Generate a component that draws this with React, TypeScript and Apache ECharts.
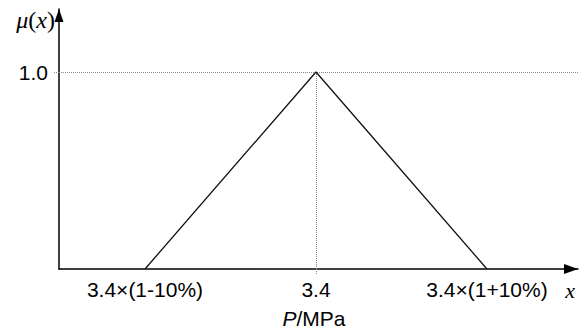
import React, { useEffect, useRef } from "react";
import * as echarts from "echarts";

// Triangular membership function of the pressure P
const pressure = [3.06, 3.4, 3.74];
const membership = [0, 1.0, 0];

const xTickValues = [3.06, 3.4, 3.74];
const xTickLabels = ["3.4×(1-10%)", "3.4", "3.4×(1+10%)"];
const yTickValues = [1.0];
const yTickLabels = ["1.0"];

const peakP = 3.4;
const peakMu = 1.0;

const SANS = "'Liberation Sans', Arial, sans-serif";
const SERIF = "'Liberation Serif', 'Times New Roman', serif";

export default function App() {
  const ref = useRef<HTMLDivElement>(null);

  useEffect(() => {
    if (!ref.current) return;
    const chart = echarts.init(ref.current, undefined, { renderer: "svg" });

    const dotted = { color: "#8a8a8a", width: 1, type: [1, 1] as number[] };

    chart.setOption({
      animation: false,
      backgroundColor: "#ffffff",
      grid: { left: 59, right: 1, top: 9, bottom: 65, containLabel: false },
      xAxis: {
        type: "value",
        min: 2.889,
        max: 3.921,
        splitLine: { show: false },
        axisLine: {
          show: true,
          onZero: false,
          lineStyle: { color: "#000", width: 1.5 },
          symbol: ["none", "triangle"],
          symbolSize: [10, 14],
          symbolOffset: [0, -7],
        },
        axisTick: {
          show: true,
          customValues: [peakP],
          length: 6,
          lineStyle: dotted,
        },
        axisLabel: {
          customValues: xTickValues,
          formatter: (v: number) => {
            const i = xTickValues.findIndex((t) => Math.abs(t - v) < 1e-6);
            return i >= 0 ? xTickLabels[i] : "";
          },
          margin: 10,
          color: "#000",
          fontSize: 21,
          fontFamily: SANS,
        },
      },
      yAxis: {
        type: "value",
        min: 0,
        max: 1.3198,
        splitLine: { show: false },
        axisLine: {
          show: true,
          onZero: false,
          lineStyle: { color: "#000", width: 1.5 },
          symbol: ["none", "triangle"],
          symbolSize: [9, 13],
          symbolOffset: [0, -6.5],
        },
        axisTick: {
          show: true,
          customValues: yTickValues,
          length: 6,
          lineStyle: dotted,
        },
        axisLabel: {
          customValues: yTickValues,
          formatter: (v: number) => {
            const i = yTickValues.findIndex((t) => Math.abs(t - v) < 1e-6);
            return i >= 0 ? yTickLabels[i] : "";
          },
          margin: 11,
          color: "#000",
          fontSize: 21,
          fontFamily: SANS,
        },
      },
      series: [
        {
          type: "line",
          data: pressure.map((p, i) => [p, membership[i]]),
          symbol: "none",
          lineStyle: { color: "#111", width: 1.3 },
          z: 3,
          markLine: {
            silent: true,
            symbol: ["none", "none"],
            label: { show: false },
            lineStyle: dotted,
            z: 1,
            data: [
              { yAxis: peakMu },
              [{ coord: [peakP, 0] }, { coord: [peakP, peakMu] }],
            ],
          },
        },
      ],
      graphic: [
        {
          type: "text",
          x: 55,
          y: 20,
          style: {
            text: "{i|μ}({i|x})",
            align: "right",
            verticalAlign: "middle",
            fill: "#000",
            font: `24px ${SERIF}`,
            rich: { i: { fontStyle: "italic", fontSize: 24, fontFamily: SERIF } },
          },
        },
        {
          type: "text",
          x: 570,
          y: 290,
          style: {
            text: "x",
            align: "center",
            verticalAlign: "middle",
            fill: "#000",
            font: `italic 22px ${SERIF}`,
          },
        },
        {
          type: "text",
          x: 314,
          y: 318,
          style: {
            text: "{i|P}/MPa",
            align: "center",
            verticalAlign: "middle",
            fill: "#000",
            font: `21px ${SANS}`,
            rich: { i: { fontStyle: "italic", fontSize: 21, fontFamily: SANS } },
          },
        },
      ],
    });

    return () => chart.dispose();
  }, []);

  return (
    <div
      ref={ref}
      style={{ position: "fixed", left: 0, top: 0, width: 579, height: 334 }}
    />
  );
}
